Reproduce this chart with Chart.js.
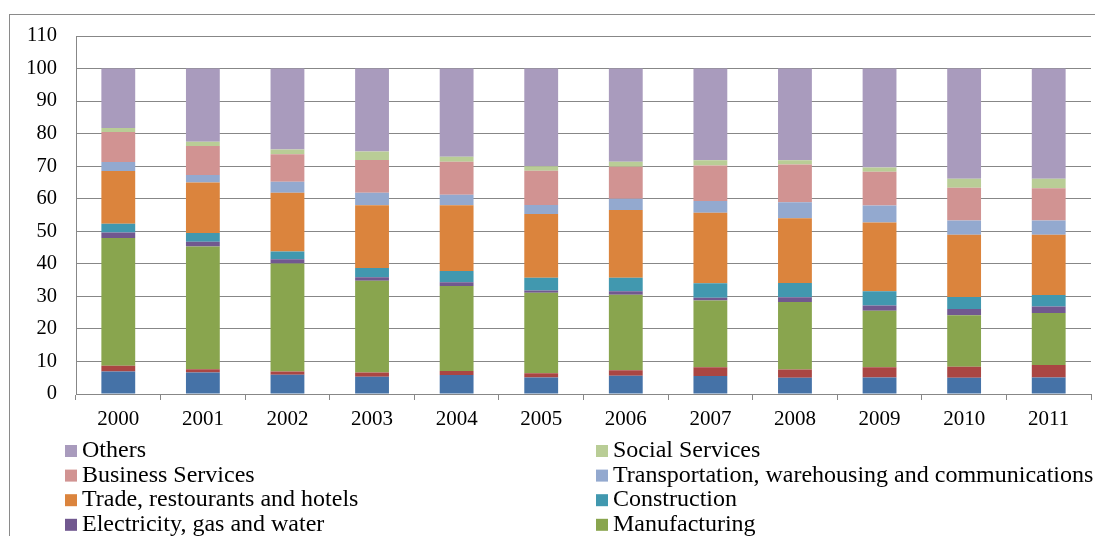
<!DOCTYPE html>
<html>
<head>
<meta charset="utf-8">
<script src="https://cdn.jsdelivr.net/npm/chart.js@4.4.0/dist/chart.umd.min.js"></script>
<style>
  html, body { margin: 0; padding: 0; background: #fff; overflow: hidden; }
  #wrap { position: relative; width: 1095px; height: 536px; }
</style>
</head>
<body>
<div id="wrap"><canvas id="c" width="1095" height="536"></canvas></div>
<script>
// Sector shares of output, percent of total, by year
const years = ['2000','2001','2002','2003','2004','2005','2006','2007','2008','2009','2010','2011'];
const yTicks = [0,10,20,30,40,50,60,70,80,90,100,110];

const agriculture   = [6.9, 6.6, 5.9, 5.3, 5.8, 5.1, 5.6, 5.5, 5.0, 5.1, 5.0, 5.1];
const mining        = [1.8, 1.0, 1.0, 1.3, 1.3, 1.3, 1.7, 2.7, 2.5, 3.1, 3.4, 3.8];
const manufacturing = [39.2, 37.7, 33.2, 28.2, 26.1, 24.7, 23.2, 20.5, 20.8, 17.4, 15.8, 16.0];
const electricity   = [1.7, 1.5, 1.3, 1.1, 1.1, 0.7, 1.1, 0.9, 1.4, 1.6, 1.9, 2.0];
const construction  = [2.7, 2.7, 2.4, 2.8, 3.5, 3.9, 4.1, 4.4, 4.4, 4.4, 3.7, 3.5];
const trade         = [16.2, 15.5, 18.0, 19.3, 20.2, 19.6, 20.8, 21.7, 19.9, 21.1, 19.1, 18.5];
const transport     = [2.8, 2.3, 3.4, 3.8, 3.2, 2.8, 3.5, 3.6, 4.9, 5.2, 4.4, 4.4];
const business      = [9.2, 8.9, 8.5, 10.1, 10.2, 10.5, 9.8, 10.9, 11.6, 10.4, 10.1, 9.9];
const social        = [1.2, 1.3, 1.4, 2.6, 1.5, 1.4, 1.6, 1.6, 1.3, 1.3, 2.7, 2.9];
const others        = [18.3, 22.5, 24.9, 25.5, 27.1, 30.0, 28.6, 28.2, 28.2, 30.4, 33.9, 33.9];

// Stack order, bottom to top
const series = [
  { label: 'Agriculture', data: agriculture, color: '#4572A7' },
  { label: 'Mining and quarrying', data: mining, color: '#AA4643' },
  { label: 'Manufacturing', data: manufacturing, color: '#89A54E' },
  { label: 'Electricity, gas and water', data: electricity, color: '#71588F' },
  { label: 'Construction', data: construction, color: '#4198AF' },
  { label: 'Trade, restourants and hotels', data: trade, color: '#DB843D' },
  { label: 'Transportation, warehousing and communications', data: transport, color: '#93A9CF' },
  { label: 'Business Services', data: business, color: '#D19392' },
  { label: 'Social Services', data: social, color: '#B9CD96' },
  { label: 'Others', data: others, color: '#A99BBD' }
];

const FONT = "'Liberation Serif', 'Times New Roman', serif";
const GRID = '#878787';

// White page and outer chart frame
const framePlugin = {
  id: 'frame',
  beforeDraw(chart) {
    const ctx = chart.ctx;
    ctx.save();
    ctx.fillStyle = '#fff';
    ctx.fillRect(0, 0, chart.width, chart.height);
    ctx.strokeStyle = '#8a8a8a';
    ctx.lineWidth = 1;
    ctx.strokeRect(9.5, 14.5, 2000, 2000);
    ctx.restore();
  }
};

// Two-column legend, top of the stack listed first
const legendPlugin = {
  id: 'twoColLegend',
  afterDraw(chart) {
    const ctx = chart.ctx;
    const items = chart.data.datasets.map(d => ({ text: d.label, color: d.backgroundColor })).reverse();
    const cols = [65, 596];
    const firstBaseline = 457, step = 24.6, box = 12;
    ctx.save();
    ctx.font = '24px ' + FONT;
    ctx.textBaseline = 'alphabetic';
    ctx.textAlign = 'left';
    items.forEach((it, i) => {
      const x = cols[i % 2];
      const yb = firstBaseline + Math.floor(i / 2) * step;
      ctx.fillStyle = it.color;
      ctx.fillRect(x, yb - box, box, box);
      ctx.fillStyle = '#000';
      ctx.fillText(it.text, x + 17, yb);
    });
    ctx.restore();
  }
};

new Chart(document.getElementById('c'), {
  type: 'bar',
  data: {
    labels: years,
    datasets: series.map(s => ({
      label: s.label,
      data: s.data,
      backgroundColor: s.color,
      borderWidth: 0,
      barPercentage: 0.4,
      categoryPercentage: 1.0
    }))
  },
  options: {
    responsive: false,
    animation: false,
    layout: { padding: { top: 36, left: 0, right: 4, bottom: 100 } },
    plugins: {
      legend: { display: false },
      tooltip: { enabled: false }
    },
    scales: {
      x: {
        stacked: true,
        afterFit(scale) { scale.height = 42; },
        grid: { display: true, drawOnChartArea: false, drawTicks: true, tickLength: 6, color: GRID, offset: true },
        border: { display: true, color: GRID, width: 1 },
        ticks: { color: '#000', font: { family: FONT, size: 21 }, padding: 7, maxRotation: 0 }
      },
      y: {
        stacked: true,
        min: 0,
        max: 110,
        afterFit(scale) { scale.width = 76; },
        afterBuildTicks(scale) { scale.ticks = yTicks.map(v => ({ value: v })); },
        grid: { color: GRID, lineWidth: 1, drawTicks: false },
        border: { display: true, color: GRID, width: 1 },
        ticks: { color: '#000', font: { family: FONT, size: 20.5 }, padding: 19 }
      }
    }
  },
  plugins: [framePlugin, legendPlugin]
});
</script>
</body>
</html>
